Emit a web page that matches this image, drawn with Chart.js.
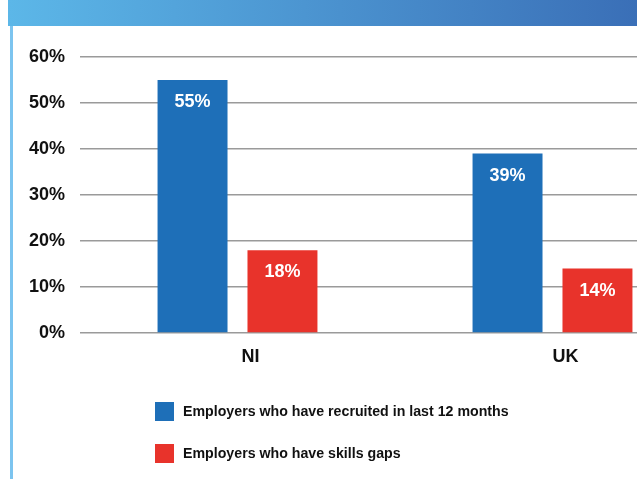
<!DOCTYPE html>
<html>
<head>
<meta charset="utf-8">
<script src="https://cdn.jsdelivr.net/npm/chart.js@4"></script>
<style>
  html, body { margin: 0; padding: 0; background: #fff; overflow: hidden; width: 637px; height: 479px; }
  body { position: relative; font-family: 'Liberation Sans', Arial, sans-serif; }
  #cabecera { position: absolute; left: 8px; top: 0; width: 629px; height: 26px;
    background: linear-gradient(to right, #5cb7e8, #3a6fb7); }
  #borde { position: absolute; left: 10px; top: 26px; width: 3px; height: 453px; background: #7cc4ef; z-index: 2; }
  #miGrafico { position: absolute; left: 0; top: 0; }
  .leyenda { position: absolute; left: 155px; height: 19px; line-height: 19px; font-weight: bold; font-size: 14.2px; color: #111; white-space: nowrap; }
  .leyenda span { display: inline-block; width: 19px; height: 19px; vertical-align: top; margin-right: 9px; }
</style>
</head>
<body>
<div id="cabecera"></div>
<div id="borde"></div>
<canvas id="miGrafico" width="720" height="479"></canvas>
<div class="leyenda" style="top:402px"><span style="background:#1e6fb8"></span>Employers who have recruited in last 12 months</div>
<div class="leyenda" style="top:444px"><span style="background:#e8332b"></span>Employers who have skills gaps</div>
<script>
// Datos
const categorias = ["NI", "UK"];
const reclutados = [55, 39];
const brechas = [18, 14];
const ticksY = [0, 10, 20, 30, 40, 50, 60];

const fuente = "'Liberation Sans', Arial, sans-serif";

// Etiquetas dentro de las barras
const etiquetasBarras = {
    id: 'etiquetasBarras',
    afterDatasetsDraw(chart) {
        const ctx = chart.ctx;
        ctx.save();
        ctx.fillStyle = '#fff';
        ctx.font = 'bold 18px ' + fuente;
        ctx.textAlign = 'center';
        ctx.textBaseline = 'middle';
        chart.data.datasets.forEach((ds, i) => {
            chart.getDatasetMeta(i).data.forEach((bar, j) => {
                ctx.fillText(ds.data[j] + '%', bar.x, bar.y + 22);
            });
        });
        ctx.restore();
    }
};

new Chart(document.getElementById('miGrafico'), {
    type: 'bar',
    data: {
        labels: categorias,
        datasets: [
            { label: 'Employers who have recruited in last 12 months', data: reclutados, backgroundColor: '#1e6fb8' },
            { label: 'Employers who have skills gaps', data: brechas, backgroundColor: '#e8332b' }
        ]
    },
    options: {
        responsive: false,
        animation: false,
        devicePixelRatio: 1,
        categoryPercentage: 0.571,
        barPercentage: 0.778,
        layout: { padding: { left: 0, right: 10, top: 57, bottom: 106 } },
        plugins: { legend: { display: false }, tooltip: { enabled: false } },
        scales: {
            x: {
                grid: { display: false },
                border: { display: false },
                ticks: { color: '#111', font: { family: fuente, size: 18, weight: 'bold' }, padding: 5, labelOffset: 13 },
                afterFit: (s) => { s.height = 40; }
            },
            y: {
                min: 0, max: 60,
                afterBuildTicks: (s) => { s.ticks = ticksY.map(v => ({ value: v })); },
                grid: { color: '#9a9a9a', lineWidth: 1.5, drawTicks: false },
                border: { display: false },
                ticks: { color: '#111', font: { family: fuente, size: 18, weight: 'bold' }, padding: 15,
                    callback: (v) => v + '%' },
                afterFit: (s) => { s.width = 80; }
            }
        }
    },
    plugins: [etiquetasBarras]
});
</script>
</body>
</html>
